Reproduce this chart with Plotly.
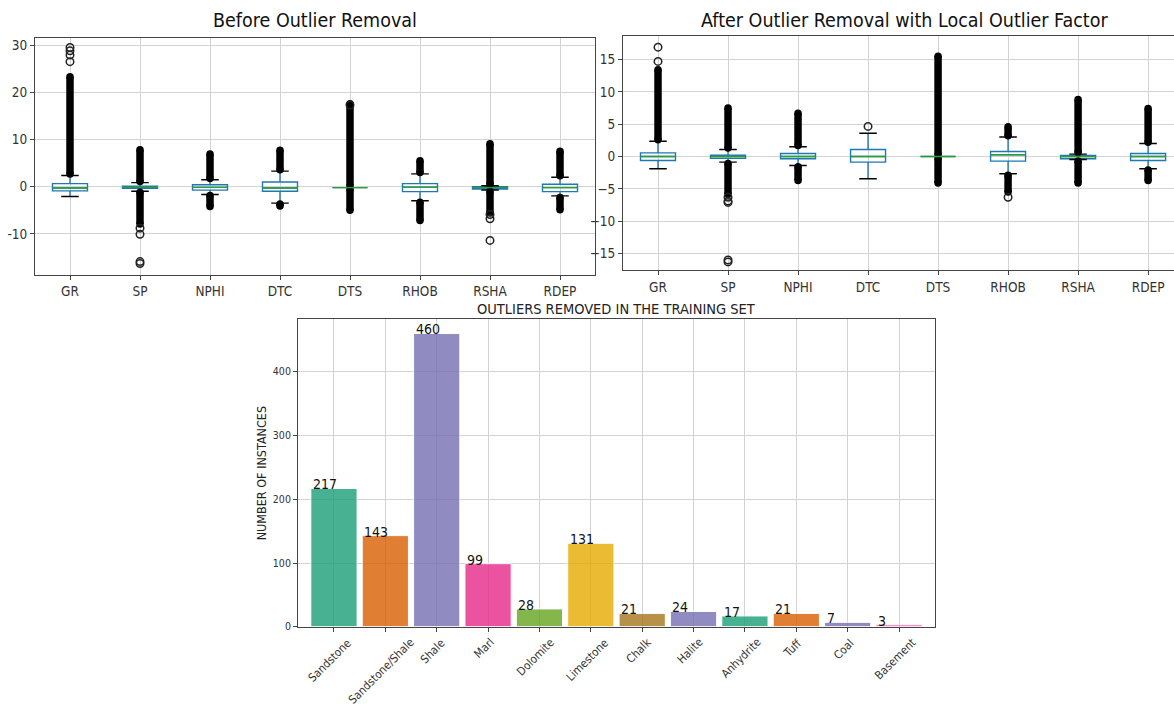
import plotly.graph_objects as go

W, H = 1174, 711
FONT = "DejaVu Sans Condensed, DejaVu Sans, sans-serif"

logs = ["GR", "SP", "NPHI", "DTC", "DTS", "RHOB", "RSHA", "RDEP"]

# ---- Before outlier removal (box statistics) ----
b_q1 = [-0.9, -0.35, -0.75, -0.98, -0.2, -1.05, -0.5, -1.05]
b_med = [-0.28, -0.1, -0.15, -0.28, -0.2, -0.1, -0.2, -0.2]
b_q3 = [0.63, 0.1, 0.4, 0.98, -0.2, 0.63, 0.0, 0.5]
b_lo = [-2.1, -0.98, -1.67, -3.5, -0.2, -3.0, -0.7, -1.95]
b_hi = [2.37, 0.84, 1.46, 3.3, -0.2, 2.7, 0.2, 2.0]
b_up_out = [(2.7, 23.3), (1.1, 7.8), (1.7, 6.9), (3.6, 7.7), (0.2, 17.6), (3.0, 5.5), (0.5, 9.1), (2.3, 7.5)]
b_dn_out = [None, (-1.2, -7.9), (-1.9, -4.2), (-3.7, -4.1), (-0.6, -5.0), (-3.3, -7.2), (-1.0, -5.6), (-2.3, -4.9)]
b_sparse = {"GR": [26.5, 27.9, 28.8, 29.5], "SP": [-8.8, -10.1, -15.9, -16.3],
            "DTS": [17.3], "RSHA": [-5.9, -6.8, -11.4]}

# ---- After outlier removal with LOF ----
a_q1 = [-0.62, -0.3, -0.36, -0.87, 0.0, -0.72, -0.36, -0.62]
a_med = [0.0, 0.0, 0.0, 0.0, 0.0, 0.26, 0.0, 0.0]
a_q3 = [0.56, 0.2, 0.46, 1.07, 0.0, 0.77, 0.15, 0.46]
a_lo = [-1.9, -0.87, -1.4, -3.45, 0.0, -2.67, -0.46, -1.9]
a_hi = [2.36, 1.07, 1.5, 3.6, 0.0, 3.0, 0.36, 2.0]
a_up_out = [(2.6, 13.4), (1.3, 7.5), (1.7, 6.7), None, (0.3, 15.5), (3.2, 4.6), (0.6, 8.8), (2.2, 7.4)]
a_dn_out = [None, (-1.1, -5.8), (-1.6, -3.7), None, (-0.3, -4.1), (-2.9, -5.5), (-0.7, -4.1), (-2.1, -3.7)]
a_sparse = {"GR": [14.7, 16.9], "SP": [-6.3, -6.9, -7.1, -16.0, -16.3], "DTC": [4.65],
            "RHOB": [-6.3]}

# ---- Outliers removed per lithology ----
lith = ["Sandstone", "Sandstone/Shale", "Shale", "Marl", "Dolomite", "Limestone",
        "Chalk", "Halite", "Anhydrite", "Tuff", "Coal", "Basement"]
counts = [217, 143, 460, 99, 28, 131, 21, 24, 17, 21, 7, 3]
bar_colors = ["#1b9e77", "#d95f02", "#7570b3", "#e7298a", "#66a61e", "#e6ab02",
              "#a6761d", "#7570b3", "#1b9e77", "#d95f02", "#7570b3", "#e7298a"]

fig = go.Figure()

def px_x(p):
    return p / W

def px_y(p):
    return 1 - p / H

def add_boxpanel(xa, ya, q1, med, q3, lo, hi, up_out, dn_out, sparse):
    pos = list(range(1, len(logs) + 1))
    # dense outlier columns
    for i, name in enumerate(logs):
        for seg in (up_out[i], dn_out[i]):
            if seg is None:
                continue
            fig.add_trace(go.Scatter(x=[pos[i], pos[i]], y=list(seg), mode="lines+markers",
                                     line=dict(color="black", width=7.5),
                                     marker=dict(color="black", size=7.5),
                                     xaxis=xa, yaxis=ya, showlegend=False, hoverinfo="skip"))
        if name in sparse:
            vals = sparse[name]
            fig.add_trace(go.Scatter(x=[pos[i]] * len(vals), y=vals, mode="markers",
                                     marker=dict(symbol="circle-open", color="#222", size=7.5,
                                                 line=dict(width=1.5)),
                                     xaxis=xa, yaxis=ya, showlegend=False, hoverinfo="skip"))
    fig.add_trace(go.Box(x=pos, q1=q1, median=med, q3=q3, lowerfence=lo, upperfence=hi,
                         width=0.5, whiskerwidth=0, fillcolor="rgba(255,255,255,0)",
                         line=dict(color="#1f77b4", width=1.4), boxpoints=False,
                         xaxis=xa, yaxis=ya, showlegend=False, hoverinfo="skip"))
    for i in range(len(logs)):
        # caps
        for v in (lo[i], hi[i]):
            if lo[i] == hi[i]:
                continue
            fig.add_trace(go.Scatter(x=[pos[i] - 0.125, pos[i] + 0.125], y=[v, v], mode="lines",
                                     line=dict(color="black", width=1.4),
                                     xaxis=xa, yaxis=ya, showlegend=False, hoverinfo="skip"))
        fig.add_trace(go.Scatter(x=[pos[i] - 0.25, pos[i] + 0.25], y=[med[i], med[i]], mode="lines",
                                 line=dict(color="#2ca02c", width=1.4),
                                 xaxis=xa, yaxis=ya, showlegend=False, hoverinfo="skip"))

add_boxpanel("x", "y", b_q1, b_med, b_q3, b_lo, b_hi, b_up_out, b_dn_out, b_sparse)
add_boxpanel("x2", "y2", a_q1, a_med, a_q3, a_lo, a_hi, a_up_out, a_dn_out, a_sparse)

fig.add_trace(go.Bar(x=list(range(len(lith))), y=counts, width=0.9,
                     marker=dict(color=bar_colors, opacity=0.8, line=dict(color="white", width=1)),
                     xaxis="x3", yaxis="y3", showlegend=False, hoverinfo="skip"))

annotations = []
for i, c in enumerate(counts):
    annotations.append(dict(x=i - 0.45, y=c, xref="x3", yref="y3", text=str(c), showarrow=False,
                            xanchor="left", yanchor="bottom", yshift=-6,
                            font=dict(family=FONT, size=14, color="#111")))
for i, name in enumerate(lith):
    annotations.append(dict(x=i, y=0, xref="x3", yref="y3", text=name, showarrow=False,
                            textangle=-45, xanchor="center", yanchor="top", yshift=-6, xshift=-4,
                            font=dict(family=FONT, size=11.5, color="#333")))

annotations += [
    dict(x=px_x(315), y=px_y(20), xref="paper", yref="paper", text="Before Outlier Removal",
         showarrow=False, xanchor="center", yanchor="middle", font=dict(family=FONT, size=19.5, color="#111")),
    dict(x=px_x(904), y=px_y(20), xref="paper", yref="paper",
         text="After Outlier Removal with Local Outlier Factor",
         showarrow=False, xanchor="center", yanchor="middle", font=dict(family=FONT, size=19.5, color="#111")),
    dict(x=px_x(616), y=px_y(311), xref="paper", yref="paper", text="OUTLIERS REMOVED IN THE TRAINING SET",
         showarrow=False, xanchor="center", yanchor="middle", font=dict(family=FONT, size=14.5, color="#222")),
    dict(x=px_x(261), y=px_y(477), xref="paper", yref="paper", text="NUMBER OF INSTANCES",
         showarrow=False, textangle=-90, xanchor="center", yanchor="middle",
         font=dict(family=FONT, size=12.5, color="#222")),
]

grid = "#d3d3d3"
axis_common = dict(showline=True, linecolor="#444", linewidth=1, ticks="outside", ticklen=4,
                   tickcolor="#444", showgrid=True, gridcolor=grid, gridwidth=1, zeroline=False)

fig.update_layout(
    width=W, height=H, margin=dict(l=0, r=0, t=0, b=0),
    paper_bgcolor="white", plot_bgcolor="white",
    font=dict(family=FONT, color="#333"),
    annotations=annotations,
    xaxis=dict(domain=[px_x(35), px_x(595)], range=[0.5, 8.5], anchor="y", mirror=True,
               tickvals=list(range(1, 9)), ticktext=logs, tickfont=dict(size=13.5), **axis_common),
    yaxis=dict(domain=[px_y(277), px_y(37)], range=[-18.8, 31.6], anchor="x", mirror=True,
               tickvals=[-10, 0, 10, 20, 30], ticktext=["-10", "0", "10", "20", "30"],
               tickfont=dict(size=13.5), **axis_common),
    xaxis2=dict(domain=[px_x(623), 1.0], range=[0.5, 8.37], anchor="y2", mirror=True,
                tickvals=list(range(1, 9)), ticktext=logs, tickfont=dict(size=13.5), **axis_common),
    yaxis2=dict(domain=[px_y(272), px_y(35.5)], range=[-17.6, 18.6], anchor="x2",
                tickvals=[-15, -10, -5, 0, 5, 10, 15], tickfont=dict(size=13.5), **axis_common),
    xaxis3=dict(domain=[px_x(298), px_x(935)], range=[-0.7, 11.7], anchor="y3", mirror=True,
                tickvals=list(range(len(lith))), showticklabels=False, **axis_common),
    yaxis3=dict(domain=[px_y(632), px_y(321)], range=[0, 483], anchor="x3", mirror=True,
                tickvals=[0, 100, 200, 300, 400], tickfont=dict(size=10.5), **axis_common),
)

fig.write_html("out.html")
